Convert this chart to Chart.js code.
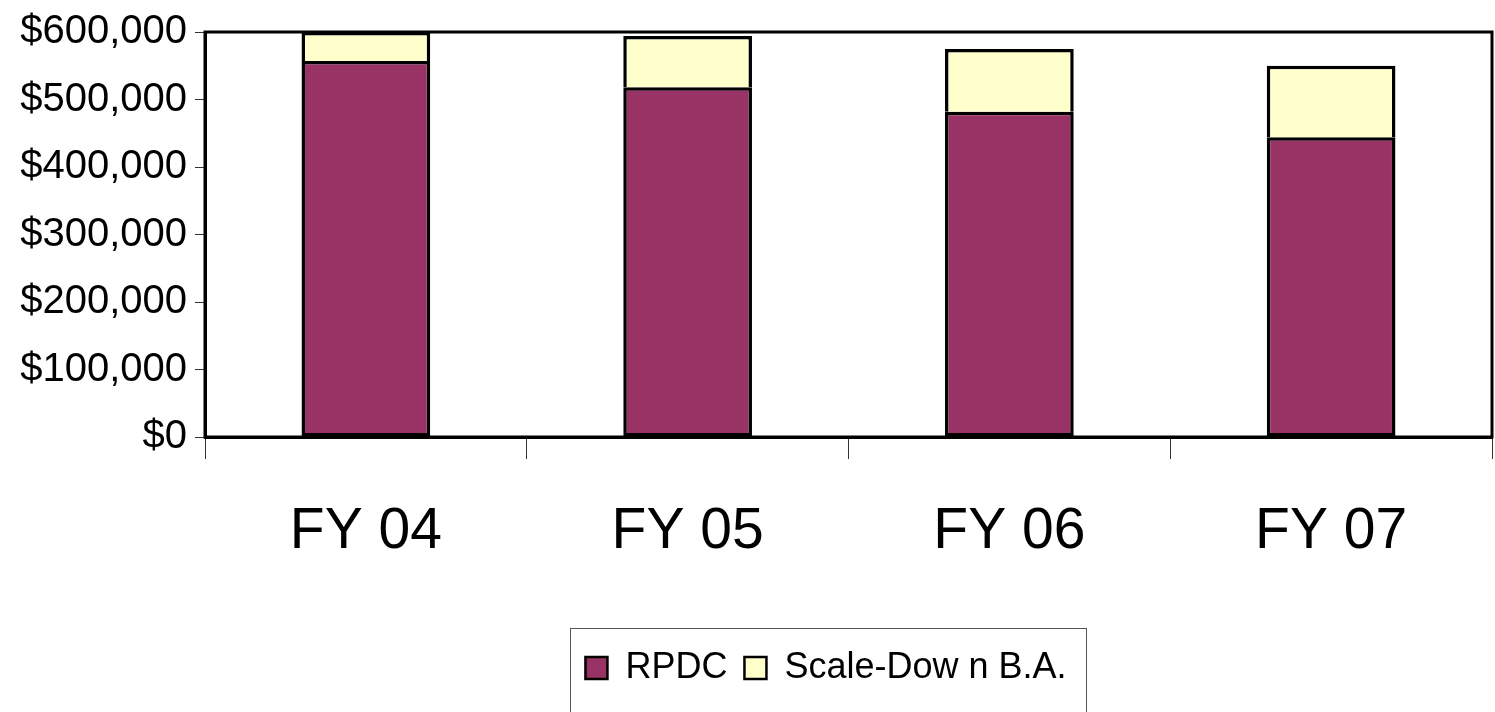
<!DOCTYPE html>
<html>
<head>
<meta charset="utf-8">
<script src="https://cdn.jsdelivr.net/npm/chart.js@4/dist/chart.umd.min.js"></script>
<style>
  html, body { margin: 0; padding: 0; background: #fff; }
  #wrap { width: 1495px; height: 712px; }
</style>
</head>
<body>
<div id="wrap"><canvas id="fundChart" width="1495" height="712"></canvas></div>
<script>
/* DATA */
var years = ["FY 04", "FY 05", "FY 06", "FY 07"];
var rpdcValues = [557000, 518000, 482000, 444000];
var scaleDownValues = [43000, 76000, 93000, 106000];
var yTicks = [0, 100000, 200000, 300000, 400000, 500000, 600000];

var plain = "'Liberation Sans', Arial, sans-serif";
var legendShift = 80;

/* nudge the legend right, like the original */
var legendNudge = {
  id: "legendNudge",
  afterLayout: function(chart) {
    var lg = chart.legend;
    if (!lg) return;
    lg.left += legendShift;
    lg.right += legendShift;
    (lg.legendHitBoxes || []).forEach(function(b) { b.left += legendShift; });
  }
};

/* frame round the plot area and round the legend */
var framePlugin = {
  id: "frames",
  afterDraw: function(chart) {
    var ctx = chart.ctx;
    var a = chart.chartArea;
    ctx.save();
    ctx.strokeStyle = "#000";
    ctx.lineWidth = 3;
    ctx.strokeRect(a.left, a.top, a.right - a.left, a.bottom - a.top);

    var boxes = chart.legend.legendHitBoxes;
    if (boxes && boxes.length) {
      var minX = Math.min.apply(null, boxes.map(function(b) { return b.left; }));
      var maxX = Math.max.apply(null, boxes.map(function(b) { return b.left + b.width; }));
      ctx.lineWidth = 1;
      ctx.strokeStyle = "#555";
      ctx.strokeRect(Math.round(minX - 15) + 0.5, 628.5, Math.round(maxX - minX + 35), 100);
    }
    ctx.restore();
  }
};

var ctx = document.getElementById("fundChart").getContext("2d");
var chart = new Chart(ctx, {
  type: "bar",
  data: {
    labels: years,
    datasets: [
      {
        label: "RPDC",
        data: rpdcValues,
        backgroundColor: "#993366",
        borderColor: "#000",
        borderWidth: 3.5,
        borderSkipped: false
      },
      {
        label: "Scale-Dow n B.A.",
        data: scaleDownValues,
        backgroundColor: "#FFFFCC",
        borderColor: "#000",
        borderWidth: 3.5,
        borderSkipped: "bottom"
      }
    ]
  },
  options: {
    responsive: false,
    animation: false,
    devicePixelRatio: 1,
    layout: { padding: { top: 32, right: 3, left: 0, bottom: 16 } },
    datasets: {
      bar: { barPercentage: 0.4, categoryPercentage: 1.0 }
    },
    scales: {
      x: {
        stacked: true,
        offset: true,
        grid: {
          display: true,
          offset: true,
          drawOnChartArea: false,
          drawTicks: true,
          tickLength: 22,
          color: "#333",
          lineWidth: 1
        },
        border: { display: true, color: "#000", width: 3 },
        ticks: {
          color: "#000",
          padding: 39,
          font: { family: plain, size: 57 }
        },
        afterFit: function(scale) { scale.height = 196; }
      },
      y: {
        stacked: true,
        min: 0,
        max: 600000,
        afterBuildTicks: function(scale) {
          scale.ticks = yTicks.map(function(v) { return { value: v }; });
        },
        grid: {
          display: true,
          drawOnChartArea: false,
          drawTicks: true,
          tickLength: 10,
          color: "#333",
          lineWidth: 1
        },
        border: { display: true, color: "#000", width: 3 },
        ticks: {
          color: "#000",
          padding: 8,
          font: { family: plain, size: 40 },
          callback: function(v) { return "$" + Number(v).toLocaleString("en-US"); }
        },
        afterFit: function(scale) { scale.width = 205; }
      }
    },
    plugins: {
      legend: {
        display: true,
        position: "bottom",
        labels: {
          color: "#000",
          boxWidth: 22,
          boxHeight: 22,
          padding: 17,
          font: { family: plain, size: 36 },
          generateLabels: function(chart) {
            return chart.data.datasets.map(function(ds, i) {
              return {
                text: ds.label,
                fillStyle: ds.backgroundColor,
                strokeStyle: "#000",
                lineWidth: 2.5,
                fontColor: "#000",
                datasetIndex: i,
                hidden: false
              };
            });
          }
        }
      },
      tooltip: { enabled: false }
    }
  },
  plugins: [legendNudge, framePlugin]
});
</script>
</body>
</html>
